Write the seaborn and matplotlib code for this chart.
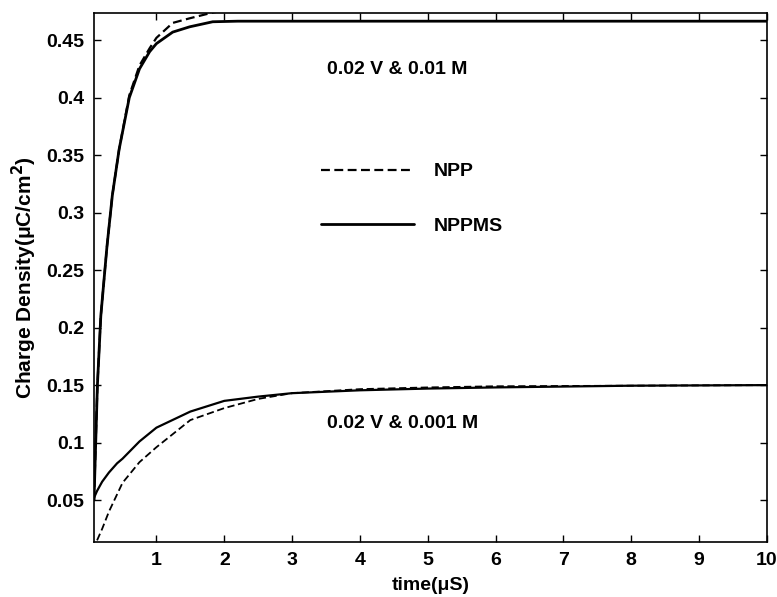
import matplotlib
matplotlib.use("Agg")
import matplotlib.pyplot as plt
import seaborn as sns
import pandas as pd

# values
# 0.02 V & 0.01 M
t_hi = [0.08, 0.1, 0.13, 0.18, 0.27, 0.35, 0.45, 0.6, 0.75, 0.9, 1.0, 1.24, 1.49, 1.83, 2.2, 3.0, 5.0, 10.0]
npp_hi = [0.05, 0.09, 0.15, 0.21, 0.27, 0.315, 0.355, 0.402, 0.428, 0.443, 0.452, 0.465, 0.469, 0.474, 0.478, 0.483, 0.487, 0.49]
npms_hi = [0.05, 0.09, 0.15, 0.21, 0.27, 0.315, 0.355, 0.400, 0.425, 0.440, 0.447, 0.457, 0.4616, 0.466, 0.4665, 0.4665, 0.4665, 0.4665]

# 0.02 V & 0.001 M
t_lo = [0.08, 0.125, 0.2, 0.3, 0.42, 0.5, 0.75, 1.0, 1.5, 2.0, 2.5, 3.0, 4.0, 5.0, 6.0, 8.0, 10.0]
npp_lo = [None, 0.015, 0.025, 0.04, 0.055, 0.065, 0.083, 0.096, 0.1196, 0.130, 0.138, 0.143, 0.1465, 0.148, 0.149, 0.1495, 0.15]
npms_lo = [0.052, 0.058, 0.066, 0.074, 0.082, 0.086, 0.101, 0.113, 0.127, 0.1363, 0.140, 0.143, 0.1455, 0.147, 0.148, 0.1495, 0.15]

ytick_vals = [0.05, 0.1, 0.15, 0.2, 0.25, 0.3, 0.35, 0.4, 0.45]
ytick_labels = ["0.05", "0.1", "0.15", "0.2", "0.25", "0.3", "0.35", "0.4", "0.45"]
xtick_vals = [1, 2, 3, 4, 5, 6, 7, 8, 9, 10]

hi = pd.DataFrame({"t": t_hi, "npp": npp_hi, "npms": npms_hi})
lo = pd.DataFrame({"t": t_lo, "npp": npp_lo, "npms": npms_lo})

sns.set_style("ticks")
plt.rcParams["font.family"] = ["Liberation Sans", "DejaVu Sans"]
plt.rcParams["font.weight"] = "bold"
plt.rcParams["text.color"] = "black"
plt.rcParams["axes.labelcolor"] = "black"
plt.rcParams["xtick.color"] = "black"
plt.rcParams["ytick.color"] = "black"

fs = 14

fig = plt.figure(figsize=(7.77, 5.97), dpi=100)
ax = fig.add_axes([0.121, 0.092, 0.866, 0.886])

sns.lineplot(data=hi, x="t", y="npp", ax=ax, color="black", lw=1.6, linestyle=(0, (4, 2)), label="NPP")
sns.lineplot(data=hi, x="t", y="npms", ax=ax, color="black", lw=2.0, label="NPPMS")
sns.lineplot(data=lo.dropna(), x="t", y="npp", ax=ax, color="black", lw=1.3, linestyle=(0, (4, 2)))
sns.lineplot(data=lo, x="t", y="npms", ax=ax, color="black", lw=1.6)

ax.set_xlim(0.08, 10)
ax.set_ylim(0.0135, 0.4735)
ax.set_xticks(xtick_vals)
ax.set_yticks(ytick_vals)
ax.set_yticklabels(ytick_labels)
ax.tick_params(direction="in", top=True, right=True, length=5, labelsize=fs, width=1, pad=7)
for s in ax.spines.values():
    s.set_linewidth(1.2)
    s.set_color("black")

ax.set_xlabel("time(\u03bcS)", fontsize=fs, fontweight="bold", labelpad=6)
ax.set_ylabel("Charge Density(\u03bcC/cm$^2$)", fontsize=15, fontweight="bold", labelpad=5)

ax.text(0.346, 0.885, "0.02 V & 0.01 M", transform=ax.transAxes, fontsize=fs, fontweight="bold")
ax.text(0.346, 0.2155, "0.02 V & 0.001 M", transform=ax.transAxes, fontsize=fs, fontweight="bold")

ax.legend(loc="upper left", bbox_to_anchor=(0.337, 0.717), frameon=False, fontsize=fs,
          handlelength=4.8, labelspacing=1.9, handletextpad=1.0, borderpad=0, borderaxespad=0)

fig.savefig("out.png", dpi=100)
